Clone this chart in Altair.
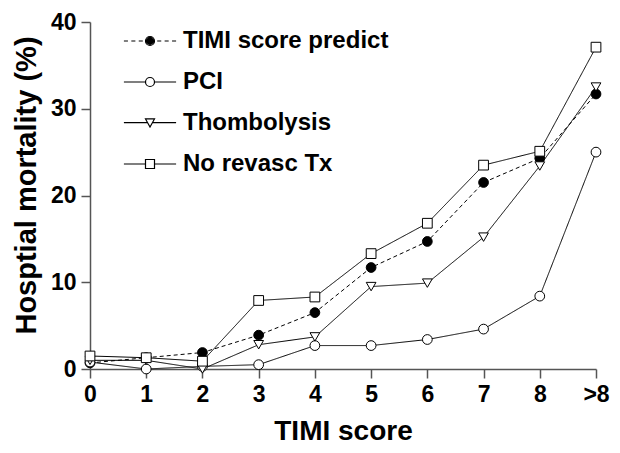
import altair as alt
import pandas as pd

scores = ["0", "1", "2", "3", "4", "5", "6", "7", "8", ">8"]
series = ["TIMI score predict", "PCI", "Thombolysis", "No revasc Tx"]
timi_predict = [0.7, 1.3, 1.9, 3.9, 6.5, 11.7, 14.7, 21.5, 24.3, 31.7]
pci = [0.8, 0.0, 0.3, 0.5, 2.7, 2.7, 3.4, 4.6, 8.4, 25.0]
thrombolysis = [1.0, 1.0, 0.0, 2.8, 3.7, 9.5, 9.9, 15.2, 23.4, 32.5]
no_revasc = [1.5, 1.3, 0.9, 7.9, 8.3, 13.3, 16.8, 23.5, 25.1, 37.1]

values = [timi_predict, pci, thrombolysis, no_revasc]
rows = []
for name, vals in zip(series, values):
    for s, v in zip(scores, vals):
        rows.append({"score": s, "series": name, "mortality": v})
df = pd.DataFrame(rows)

FONT = "Liberation Sans"

x_enc = alt.X(
    "score:O",
    sort=scores,
    scale=alt.Scale(type="point", padding=0),
    axis=alt.Axis(
        title="TIMI score",
        labelAngle=0,
        labelFont=FONT,
        labelFontSize=23,
        labelFontWeight="bold",
        labelColor="black",
        labelPadding=5,
        tickSize=9,
        tickColor="#555",
        tickWidth=1.5,
        domainColor="#555",
        domainWidth=1.5,
        titleFont=FONT,
        titleFontSize=28,
        titleFontWeight="bold",
        titleColor="black",
        titleBaseline="alphabetic",
        titleY=70,
        grid=False,
    ),
)
y_enc = alt.Y(
    "mortality:Q",
    scale=alt.Scale(domain=[0, 40], nice=False),
    axis=alt.Axis(
        title="Hosptial mortality (%)",
        values=[0, 10, 20, 30, 40],
        labelFont=FONT,
        labelFontSize=23,
        labelFontWeight="bold",
        labelColor="black",
        labelPadding=5,
        tickSize=9,
        tickColor="#555",
        tickWidth=1.5,
        domainColor="#555",
        domainWidth=1.5,
        titleFont=FONT,
        titleFontSize=29,
        titleFontWeight="bold",
        titleColor="black",
        titleAngle=-90,
        titleAlign="center",
        titleBaseline="alphabetic",
        titleX=-55,
        titleY=163,
        grid=False,
    ),
)

base = alt.Chart(df).encode(x=x_enc, y=y_enc)

lines = base.mark_line(color="black", strokeWidth=1).encode(
    strokeDash=alt.StrokeDash(
        "series:N",
        scale=alt.Scale(domain=series, range=[[4, 3], [1, 0], [1, 0], [1, 0]]),
        legend=None,
    )
)

points = base.mark_point(
    filled=True, opacity=1, stroke="black", strokeWidth=1, size=95
).encode(
    shape=alt.Shape(
        "series:N",
        scale=alt.Scale(domain=series, range=["circle", "circle", "triangle-down", "square"]),
        legend=None,
    ),
    fill=alt.Fill(
        "series:N",
        scale=alt.Scale(domain=series, range=["black", "white", "white", "white"]),
        legend=None,
    ),
)

# legend glyphs: a line with a marker in the middle (unit box -1..1 = marker)
ring = "M-{r},0A{r},{r},0,1,0,{r},0A{r},{r},0,1,0,-{r},0"
filled_circle = "".join(ring.format(r=r) for r in ["1", "0.75", "0.5", "0.25"]) + "M-0.08,0H0.08"
legend_paths = [
    "M-5.8,0H-4.9M-4.15,0H-3.25M-2.5,0H-1.6M1.6,0H2.5M3.25,0H4.15M4.9,0H5.8" + filled_circle,
    "M-5.8,0H-1M1,0H5.8" + ring.format(r="1"),
    "M-5.8,-0.1H-0.55M0.55,-0.1H5.8M-1,-0.9L1,-0.9L0,0.9Z",
    "M-5.8,0H-1M1,0H5.8M-1,-1H1V1H-1Z",
]

legend_layer = (
    alt.Chart(df)
    .transform_filter("false")
    .mark_point(filled=False, color="black", opacity=1, strokeWidth=1.2)
    .encode(
        x=x_enc,
        y=y_enc,
        shape=alt.Shape(
            "series:N",
            scale=alt.Scale(domain=series, range=legend_paths),
            legend=alt.Legend(title=None),
        ),
    )
)

chart = (
    alt.layer(lines, points, legend_layer)
    .resolve_scale(shape="independent")
    .properties(
        width=506,
        height=347,
        autosize=alt.AutoSizeParams(type="none"),
        padding={"left": 82, "top": 14, "right": 14, "bottom": 76},
    )
    .configure_view(stroke=None)
    .configure_legend(
        orient="none",
        legendX=48,
        legendY=7,
        padding=0,
        labelFont=FONT,
        labelFontSize=24,
        labelFontWeight="bold",
        labelColor="black",
        labelLimit=400,
        labelOffset=21,
        symbolSize=81,
        symbolStrokeWidth=1.2,
        symbolStrokeColor="black",
        symbolFillColor="transparent",
        rowPadding=17,
    )
)

chart.save("out.html", embed_options={"renderer": "svg", "actions": False})
